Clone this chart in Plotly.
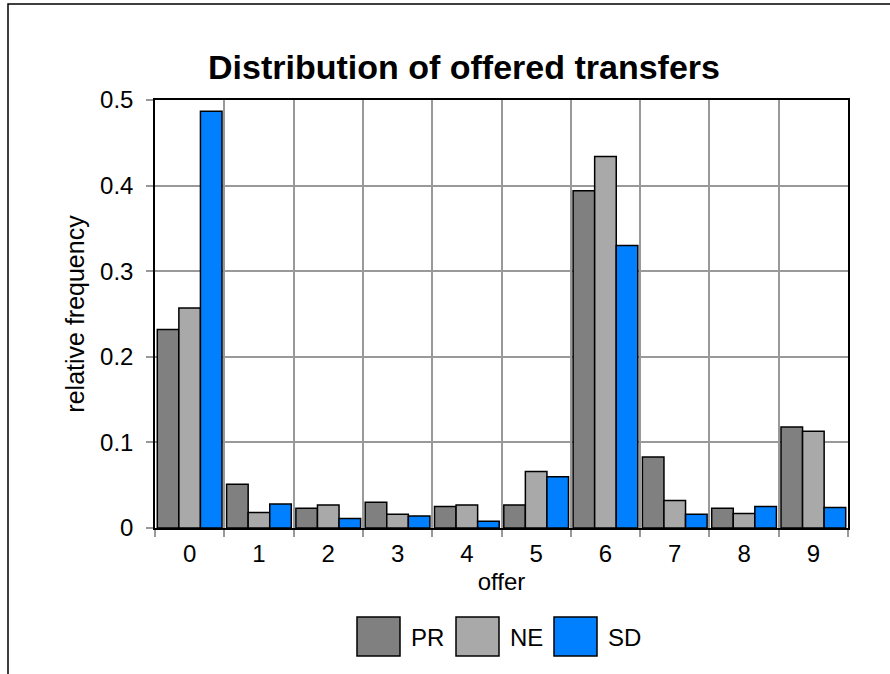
import plotly.graph_objects as go

categories = ["0", "1", "2", "3", "4", "5", "6", "7", "8", "9"]
pr_values = [0.232, 0.051, 0.023, 0.030, 0.025, 0.027, 0.394, 0.083, 0.023, 0.118]
ne_values = [0.257, 0.018, 0.027, 0.016, 0.027, 0.066, 0.434, 0.032, 0.017, 0.113]
sd_values = [0.487, 0.028, 0.011, 0.014, 0.008, 0.060, 0.330, 0.016, 0.025, 0.024]
series_names = ["PR", "NE", "SD"]
series_colors = ["#808080", "#A9A9A9", "#0080FF"]
y_ticks = [0, 0.1, 0.2, 0.3, 0.4, 0.5]
y_tick_text = ["0", "0.1", "0.2", "0.3", "0.4", "0.5"]

W, H = 890, 674
L, R, T, B = 155, 42, 100, 146
PW, PH = W - L - R, H - T - B

def px_x(px):
    return (px - L) / PW

def px_y(py):
    return (H - B - py) / PH

FONT = "Liberation Sans, Arial, sans-serif"

fig = go.Figure()
for name, vals, col in zip(series_names, [pr_values, ne_values, sd_values], series_colors):
    fig.add_trace(go.Bar(
        x=categories, y=vals, name=name,
        marker=dict(color=col, line=dict(color="black", width=1.5)),
        showlegend=False,
    ))

fig.update_layout(
    width=W, height=H,
    margin=dict(l=L, r=R, t=T, b=B),
    paper_bgcolor="white", plot_bgcolor="white",
    barmode="group", bargap=0.066, bargroupgap=0,
    font=dict(family=FONT, size=24, color="black"),
    title=dict(text="<b>Distribution of offered transfers</b>",
               font=dict(family=FONT, size=34, color="black"),
               x=464 / W, xanchor="center", y=1 - 67 / H, yanchor="middle"),
)

fig.update_xaxes(
    type="category", tickson="boundaries",
    showgrid=True, gridcolor="#999999", gridwidth=1.5,
    showline=True, linecolor="black", linewidth=1.5, mirror=True,
    ticks="outside", ticklen=7, tickcolor="#999999", tickwidth=1.5,
    tickfont=dict(size=24), ticklabelstandoff=3,
    title=dict(text="offer", font=dict(size=24), standoff=8),
)
fig.update_yaxes(
    range=[0, 0.5], tickvals=y_ticks, ticktext=y_tick_text,
    showgrid=True, gridcolor="#999999", gridwidth=1.5,
    showline=True, linecolor="black", linewidth=1.5, mirror=True,
    ticks="outside", ticklen=7, tickcolor="#999999", tickwidth=1.5,
    tickfont=dict(size=24), zeroline=False, ticklabelstandoff=8,
    title=dict(text="relative frequency", font=dict(size=25), standoff=8),
)

# outer frame
fig.add_shape(type="rect", xref="paper", yref="paper",
              x0=px_x(8), y0=px_y(4), x1=px_x(W + 40), y1=px_y(H + 40),
              line=dict(color="black", width=1.5), fillcolor="rgba(0,0,0,0)", layer="below")

# legend (manual, tall boxes)
box_left = [357, 456, 554]
for name, col, bx in zip(series_names, series_colors, box_left):
    fig.add_shape(type="rect", xref="paper", yref="paper",
                  x0=px_x(bx), x1=px_x(bx + 43), y0=px_y(617), y1=px_y(656),
                  line=dict(color="black", width=1.5), fillcolor=col)
    fig.add_annotation(xref="paper", yref="paper", x=px_x(bx + 52), y=px_y(637),
                       text=name, showarrow=False, xanchor="left", yanchor="middle",
                       font=dict(family=FONT, size=24, color="black"))

fig.write_html("out.html", config={"displayModeBar": False},
               post_script="document.body.style.margin='0';")
